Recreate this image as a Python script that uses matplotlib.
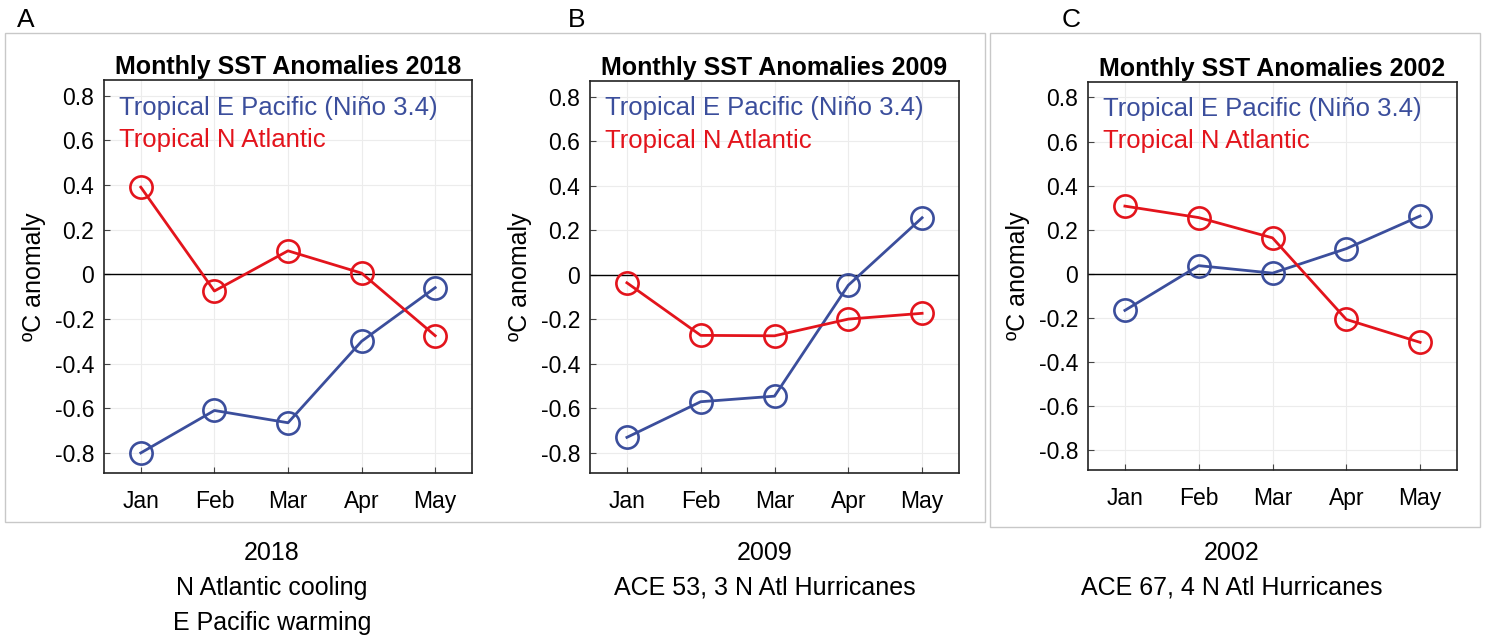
import numpy as np
import matplotlib
matplotlib.use('Agg')
import matplotlib.pyplot as plt
from matplotlib.patches import Rectangle

plt.rcParams['font.family'] = ['Liberation Sans', 'DejaVu Sans']
plt.rcParams['axes.unicode_minus'] = False

months = ['Jan', 'Feb', 'Mar', 'Apr', 'May']
yticks = [-0.8, -0.6, -0.4, -0.2, 0, 0.2, 0.4, 0.6, 0.8]
ytick_labels = ['-0.8', '-0.6', '-0.4', '-0.2', '0', '0.2', '0.4', '0.6', '0.8']

years = ['2018', '2009', '2002']
letters = ['A', 'B', 'C']
pacific_2018 = [-0.80, -0.61, -0.665, -0.30, -0.06]
atlantic_2018 = [0.39, -0.075, 0.105, 0.005, -0.275]
pacific_2009 = [-0.73, -0.57, -0.545, -0.047, 0.256]
atlantic_2009 = [-0.036, -0.272, -0.274, -0.199, -0.173]
pacific_2002 = [-0.166, 0.037, 0.003, 0.114, 0.262]
atlantic_2002 = [0.307, 0.255, 0.163, -0.207, -0.311]
captions = [['2018', 'N Atlantic cooling', 'E Pacific warming'],
            ['2009', 'ACE 53, 3 N Atl Hurricanes'],
            ['2002', 'ACE 67, 4 N Atl Hurricanes']]

pacific = [pacific_2018, pacific_2009, pacific_2002]
atlantic = [atlantic_2018, atlantic_2009, atlantic_2002]

W, H = 1485, 637
fig = plt.figure(figsize=(W/100, H/100), dpi=100)

def fx(px):
    return px / W

def fy(py):
    return 1 - py / H

# panel frames (pixels: left, top, right, bottom)
for l, t, r, b in [(5, 33, 985, 522), (990, 33, 1480, 527)]:
    fig.patches.append(Rectangle((fx(l), fy(b)), fx(r - l), (b - t) / H,
                                 transform=fig.transFigure, fill=False,
                                 edgecolor='#c8c8c8', lw=1))

# axes boxes in pixels: left, top, right, bottom
boxes = [(104, 80, 472, 473), (590, 81, 959, 473), (1088, 82, 1457, 470)]
letter_x = [26, 577, 1071]
caption_x = [272, 765, 1232]

blue = '#3b4e9c'
red = '#e3141c'
x = np.arange(1, 6)

for i in range(3):
    l, t, r, b = boxes[i]
    ax = fig.add_axes([fx(l), fy(b), fx(r - l), (b - t) / H])
    ax.grid(True, color='#ececec', lw=0.8)
    ax.set_axisbelow(True)
    ax.axhline(0, color='black', lw=1.0, zorder=2)
    ax.plot(x, pacific[i], '-o', color=blue, lw=2, ms=16, mfc='none', mew=1.9, zorder=3)
    ax.plot(x, atlantic[i], '-o', color=red, lw=2, ms=16, mfc='none', mew=1.9, zorder=3)
    ax.set_xlim(0.5, 5.5)
    ax.set_ylim(-0.89, 0.87)
    ax.set_xticks(x)
    ax.set_xticklabels(months)
    ax.set_yticks(yticks)
    ax.set_yticklabels(ytick_labels)
    ax.tick_params(axis='both', direction='in', labelsize=16.5, length=4, color='#444444')
    ax.tick_params(axis='x', pad=12)
    ax.tick_params(axis='y', pad=7)
    for s in ax.spines.values():
        s.set_linewidth(1.2)
        s.set_color('#222222')
    ax.set_title('Monthly SST Anomalies ' + years[i], fontsize=18, fontweight='bold', pad=4)
    ax.set_ylabel('ºC anomaly', fontsize=18, labelpad=6)
    ax.text(0.04, 0.93, 'Tropical E Pacific (Niño 3.4)', color=blue, fontsize=18.5,
            transform=ax.transAxes, va='center', ha='left')
    ax.text(0.04, 0.848, 'Tropical N Atlantic', color=red, fontsize=18.5,
            transform=ax.transAxes, va='center', ha='left')
    fig.text(fx(letter_x[i]), fy(20), letters[i], fontsize=19, ha='center', va='center')
    for j, line in enumerate(captions[i]):
        fig.text(fx(caption_x[i]), fy(553 + 35 * j), line, fontsize=18,
                 ha='center', va='center')

fig.savefig('out.png', dpi=100)
